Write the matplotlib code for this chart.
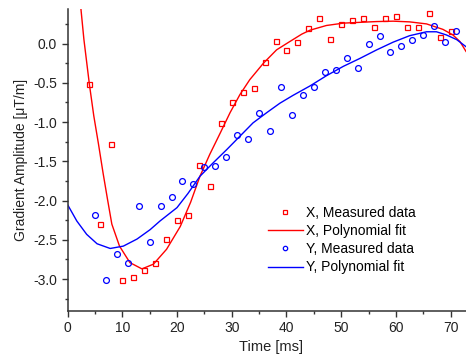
import matplotlib
matplotlib.use("Agg")
import matplotlib.pyplot as plt
from matplotlib.ticker import MultipleLocator, FormatStrFormatter

plt.rcParams['font.family'] = ['Liberation Sans', 'DejaVu Sans']
plt.rcParams['axes.unicode_minus'] = False

# X gradient, measured
x_meas_t = [4, 6, 8, 10, 12, 14, 16, 18, 20, 22, 24, 26, 28, 30, 32, 34, 36, 38,
            40, 42, 44, 46, 48, 50, 52, 54, 56, 58, 60, 62, 64, 66, 68, 70]
x_meas_v = [-0.52, -2.30, -1.28, -3.01, -2.97, -2.88, -2.79, -2.49, -2.25, -2.18,
            -1.55, -1.82, -1.01, -0.75, -0.62, -0.57, -0.24, 0.03, -0.08, 0.02,
            0.20, 0.32, 0.06, 0.25, 0.30, 0.33, 0.21, 0.32, 0.35, 0.21, 0.21,
            0.39, 0.085, 0.165]

# Y gradient, measured
y_meas_t = [5, 7, 9, 11, 13, 15, 17, 19, 21, 23, 25, 27, 29, 31, 33, 35, 37, 39,
            41, 43, 45, 47, 49, 51, 53, 55, 57, 59, 61, 63, 65, 67, 69, 71]
y_meas_v = [-2.19, -3.01, -2.68, -2.80, -2.07, -2.53, -2.07, -1.95, -1.75, -1.79,
            -1.57, -1.56, -1.44, -1.17, -1.21, -0.89, -1.12, -0.55, -0.91, -0.66,
            -0.55, -0.36, -0.34, -0.18, -0.31, 0.0, 0.10, -0.105, -0.025, 0.05,
            0.11, 0.22, 0.02, 0.165]

# X polynomial fit
x_fit_t = [2.3, 3.0, 4.0, 4.8, 5.66, 6.5, 7.3, 8.1, 9.5, 11.4, 13.6, 15.7, 18.1,
           20.6, 22.5, 24.2, 26.0, 27.9, 29.7, 31.5, 33.3, 35.8, 38.2, 40.6,
           42.8, 44.3, 47.3, 50.4, 53.4, 56.5, 59.5, 62.5, 65.6, 68.6, 70.4,
           71.7, 72.8]
x_fit_v = [0.55, 0.05, -0.52, -0.92, -1.28, -1.65, -1.98, -2.30, -2.58, -2.79,
           -2.87, -2.81, -2.62, -2.33, -2.02, -1.69, -1.41, -1.14, -0.88, -0.65,
           -0.46, -0.25, -0.08, 0.025, 0.12, 0.17, 0.23, 0.26, 0.27, 0.28, 0.285,
           0.276, 0.25, 0.18, 0.11, 0.025, -0.10]

# Y polynomial fit
y_fit_t = [0, 1.7, 3.5, 5.4, 7.8, 10.2, 12.7, 15.1, 16.9, 20.0, 22.0, 24.2,
           26.6, 29.1, 31.5, 33.9, 36.4, 38.8, 41.2, 44.3, 47.3, 50.4, 53.4,
           56.5, 59.5, 62.5, 65.6, 67.4, 69.2, 71.1, 72.8]
y_fit_v = [-2.05, -2.26, -2.43, -2.55, -2.61, -2.58, -2.49, -2.37, -2.26, -2.09,
           -1.91, -1.69, -1.52, -1.35, -1.18, -1.01, -0.88, -0.76, -0.66, -0.54,
           -0.41, -0.29, -0.19, -0.08, 0.018, 0.10, 0.15, 0.15, 0.11, 0.05, -0.04]

W, H = 466, 356
fig = plt.figure(figsize=(W / 100, H / 100), dpi=100)
left, right, top, bottom = 67.5, 466, 9, 310.5
ax = fig.add_axes([left / W, 1 - bottom / H, (right - left) / W, (bottom - top) / H])

ax.plot(x_meas_t, x_meas_v, linestyle='none', marker='s', ms=3.6, mfc='none',
        mec='#ff0000', mew=0.9, label='X, Measured data')
ax.plot(x_fit_t, x_fit_v, color='#ff0000', lw=1.0, label='X, Polynomial fit')
ax.plot(y_meas_t, y_meas_v, linestyle='none', marker='o', ms=4.2, mfc='none',
        mec='#0000ff', mew=0.9, label='Y, Measured data')
ax.plot(y_fit_t, y_fit_v, color='#0000ff', lw=1.0, label='Y, Polynomial fit')

ax.set_xlim(0, 72.8)
ax.set_ylim(-3.4, 0.44)

for s in ['top', 'right']:
    ax.spines[s].set_visible(False)
for s in ['left', 'bottom']:
    ax.spines[s].set_color('#333333')
    ax.spines[s].set_linewidth(1.1)

ax.xaxis.set_major_locator(MultipleLocator(10))
ax.xaxis.set_minor_locator(MultipleLocator(5))
ax.yaxis.set_major_locator(MultipleLocator(0.5))
ax.yaxis.set_minor_locator(MultipleLocator(0.25))
ax.yaxis.set_major_formatter(FormatStrFormatter('%.1f'))
ax.tick_params(which='major', direction='out', length=4.5, width=1.0,
               color='#333333', labelsize=10, labelcolor='#222222', pad=3)
ax.tick_params(which='minor', direction='out', length=2.5, width=1.0, color='#333333')

ax.set_xlabel('Time [ms]', fontsize=10.5, color='#222222')
ax.set_ylabel('Gradient Amplitude [μT/m]', fontsize=10, color='#222222')
ax.xaxis.set_label_coords((271 - left) / (right - left), (bottom - 340) / (bottom - top))
ax.yaxis.set_label_coords((28 - left) / (right - left), 0.5)

leg = ax.legend(loc='upper left', bbox_to_anchor=((268 - left) / (right - left), (bottom - 206) / (bottom - top)),
                frameon=False, fontsize=10, handlelength=2.5, handletextpad=0.25,
                labelspacing=0.3, markerscale=0.75, borderaxespad=0, borderpad=0)

fig.savefig('out.png', dpi=100)
